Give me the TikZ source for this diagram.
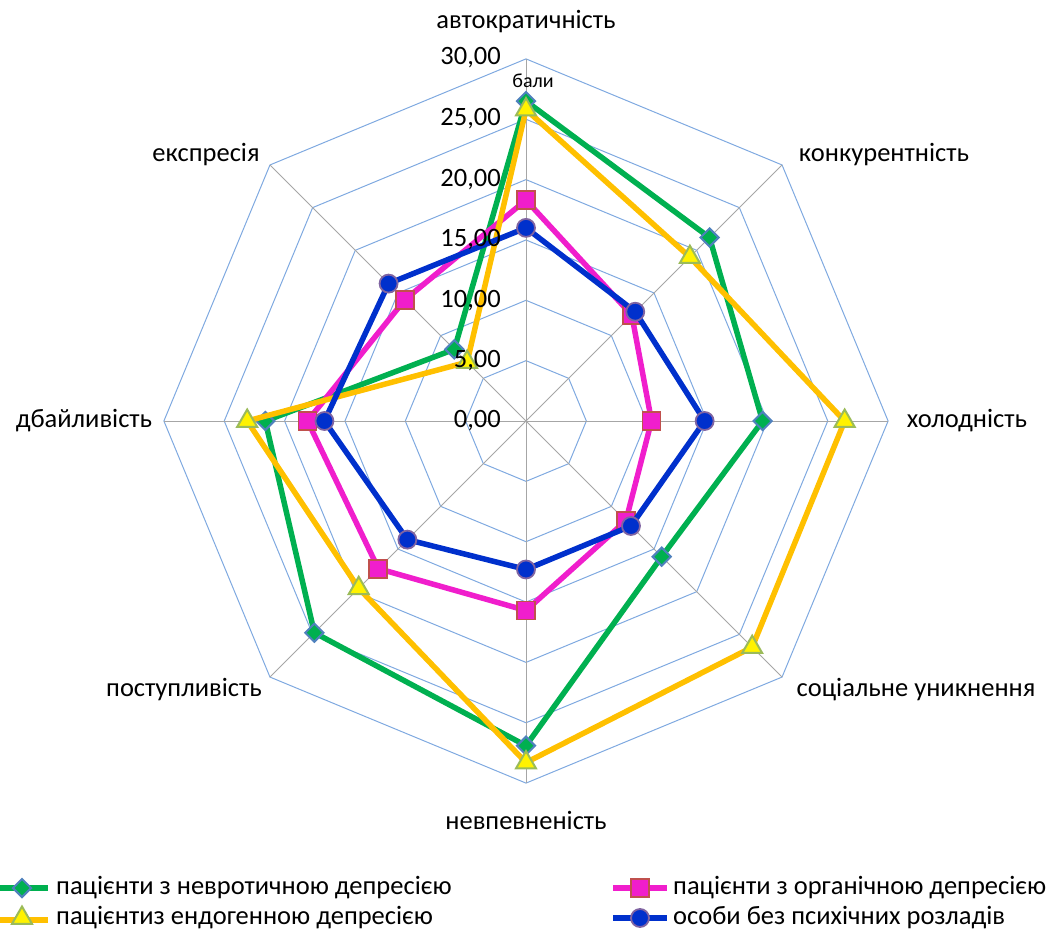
\documentclass[tikz,border=0pt]{standalone}
\usepackage{fontspec}
\setmainfont{Carlito}
\usetikzlibrary{shapes.geometric}
\definecolor{gridblue}{HTML}{7FA9E0}
\definecolor{axgray}{HTML}{A6A6A6}
\definecolor{sgreen}{HTML}{00B050}
\definecolor{syellow}{HTML}{FFC000}
\definecolor{smag}{HTML}{F01ECC}
\definecolor{sblue}{HTML}{0030CC}
\definecolor{gbord}{HTML}{4F81BD}
\definecolor{mbord}{HTML}{C0504D}
\definecolor{ybord}{HTML}{9BBB59}
\definecolor{bbord}{HTML}{8064A2}
\tikzset{
  ringline/.style={gridblue, line width=1bp},
  axisline/.style={axgray, line width=1bp},
  serline/.style={line width=5.5bp, line join=round},
  gmark/.style={diamond, shape aspect=1, fill=sgreen, draw=gbord, line width=2bp, minimum width=19bp, minimum height=19bp, inner sep=0pt},
  mmark/.style={rectangle, fill=smag, draw=mbord, line width=1.8bp, minimum size=18bp, inner sep=0pt},
  ymark/.style={regular polygon, regular polygon sides=3, fill=yellow, draw=ybord, line width=2bp, minimum size=23bp, inner sep=0pt},
  bmark/.style={circle, fill=sblue, draw=bbord, line width=1.8bp, minimum size=18bp, inner sep=0pt},
  lbl/.style={font=\fontsize{26.5bp}{30bp}\selectfont, inner sep=0pt},
  tick/.style={font=\fontsize{26.5bp}{30bp}\selectfont, inner sep=0pt, anchor=east},
  leg/.style={font=\fontsize{26.5bp}{30bp}\selectfont, inner sep=0pt, anchor=west}
}
\begin{document}
\begin{tikzpicture}[x=1bp,y=-1bp]
\useasboundingbox (0,0) rectangle (1051,932);
\begin{scope}[shift={(526,421)}, x=12.07bp, y=-12.07bp]
  % grid rings
  \foreach \r in {5,10,...,30}
    \draw[ringline] (-90:\r) -- (-45:\r) -- (0:\r) -- (45:\r) -- (90:\r) -- (135:\r) -- (180:\r) -- (225:\r) -- cycle;
  % axes
  \foreach \a in {-90,-45,0,45,90,135,180,225}
    \draw[axisline] (0,0) -- (\a:30);
\end{scope}
% category labels
\node[lbl] (lab1) at (526,22) {автократичність};
\node[lbl] (lab2) at (884,155) {конкурентність};
\node[lbl] (lab3) at (967,421) {холодність};
\node[lbl] (lab4) at (916,690) {соціальне уникнення};
\node[lbl] (lab5) at (526,820) {невпевненість};
\node[lbl] (lab6) at (184,690) {поступливість};
\node[lbl] (lab7) at (84,421) {дбайливість};
\node[lbl] (lab8) at (206,155) {експресія};
% series
\begin{scope}[shift={(526,421)}, x=12.07bp, y=-12.07bp]
  \foreach \v [count=\i] in {26.5,21.5,19.6,15.9,26.9,24.8,21.6,8.4}
    \coordinate (g\i) at ({\i*45-135}:\v);
  \foreach \v [count=\i] in {18.3,12.4,10.4,11.7,15.7,17.3,18.1,14.2}
    \coordinate (m\i) at ({\i*45-135}:\v);
  \foreach \v [count=\i] in {25.8,19.2,26.4,26.5,28.3,19.6,23.1,6.9}
    \coordinate (y\i) at ({\i*45-135}:\v);
  \foreach \v [count=\i] in {16.0,12.8,14.8,12.3,12.3,13.9,16.7,16.1}
    \coordinate (b\i) at ({\i*45-135}:\v);
  \draw[serline, sgreen] (g1) -- (g2) -- (g3) -- (g4) -- (g5) -- (g6) -- (g7) -- (g8) -- cycle;
  \foreach \i in {1,...,8} \node[gmark] (gm\i) at (g\i) {};
  \draw[serline, smag] (m1) -- (m2) -- (m3) -- (m4) -- (m5) -- (m6) -- (m7) -- (m8) -- cycle;
  \foreach \i in {1,...,8} \node[mmark] (mm\i) at (m\i) {};
  \draw[serline, syellow] (y1) -- (y2) -- (y3) -- (y4) -- (y5) -- (y6) -- (y7) -- (y8) -- cycle;
  \foreach \i in {1,...,8} \node[ymark] (ym\i) at (y\i) {};
  \draw[serline, sblue] (b1) -- (b2) -- (b3) -- (b4) -- (b5) -- (b6) -- (b7) -- (b8) -- cycle;
  \foreach \i in {1,...,8} \node[bmark] (bm\i) at (b\i) {};
\end{scope}
% ticks (drawn over the series)
\node[tick] (t30) at (501,58) {30,00};
\node[tick] (t25) at (501,119) {25,00};
\node[tick] (t20) at (501,180) {20,00};
\node[tick] (t15) at (501,240) {15,00};
\node[tick] (t10) at (501,301) {10,00};
\node[tick] (t5) at (501,361) {5,00};
\node[tick] (t0) at (501,421) {0,00};
\node[font=\fontsize{20bp}{22bp}\selectfont, inner sep=0pt] (unit) at (533,81) {бали};
% legend
\coordinate (lg1a) at (-2,888); \coordinate (lg1b) at (48,888);
\draw[serline, sgreen] (lg1a) -- (lg1b);
\node[gmark] (lgm1) at (22,888) {};
\node[leg] (lgt1) at (56,888) {пацієнти з невротичною депресією};
\coordinate (lg2a) at (-2,920); \coordinate (lg2b) at (48,920);
\draw[serline, syellow] (lg2a) -- (lg2b);
\node[ymark] (lgm2) at (22,918) {};
\node[leg] (lgt2) at (56,918) {пацієнтиз ендогенною депресією};
\coordinate (lg3a) at (613,888); \coordinate (lg3b) at (667,888);
\draw[serline, smag] (lg3a) -- (lg3b);
\node[mmark] (lgm3) at (640,888) {};
\node[leg] (lgt3) at (673,888) {пацієнти з органічною депресією};
\coordinate (lg4a) at (613,918); \coordinate (lg4b) at (667,918);
\draw[serline, sblue] (lg4a) -- (lg4b);
\node[bmark] (lgm4) at (640,918) {};
\node[leg] (lgt4) at (673,918) {особи без психічних розладів};
\end{tikzpicture}
\end{document}
